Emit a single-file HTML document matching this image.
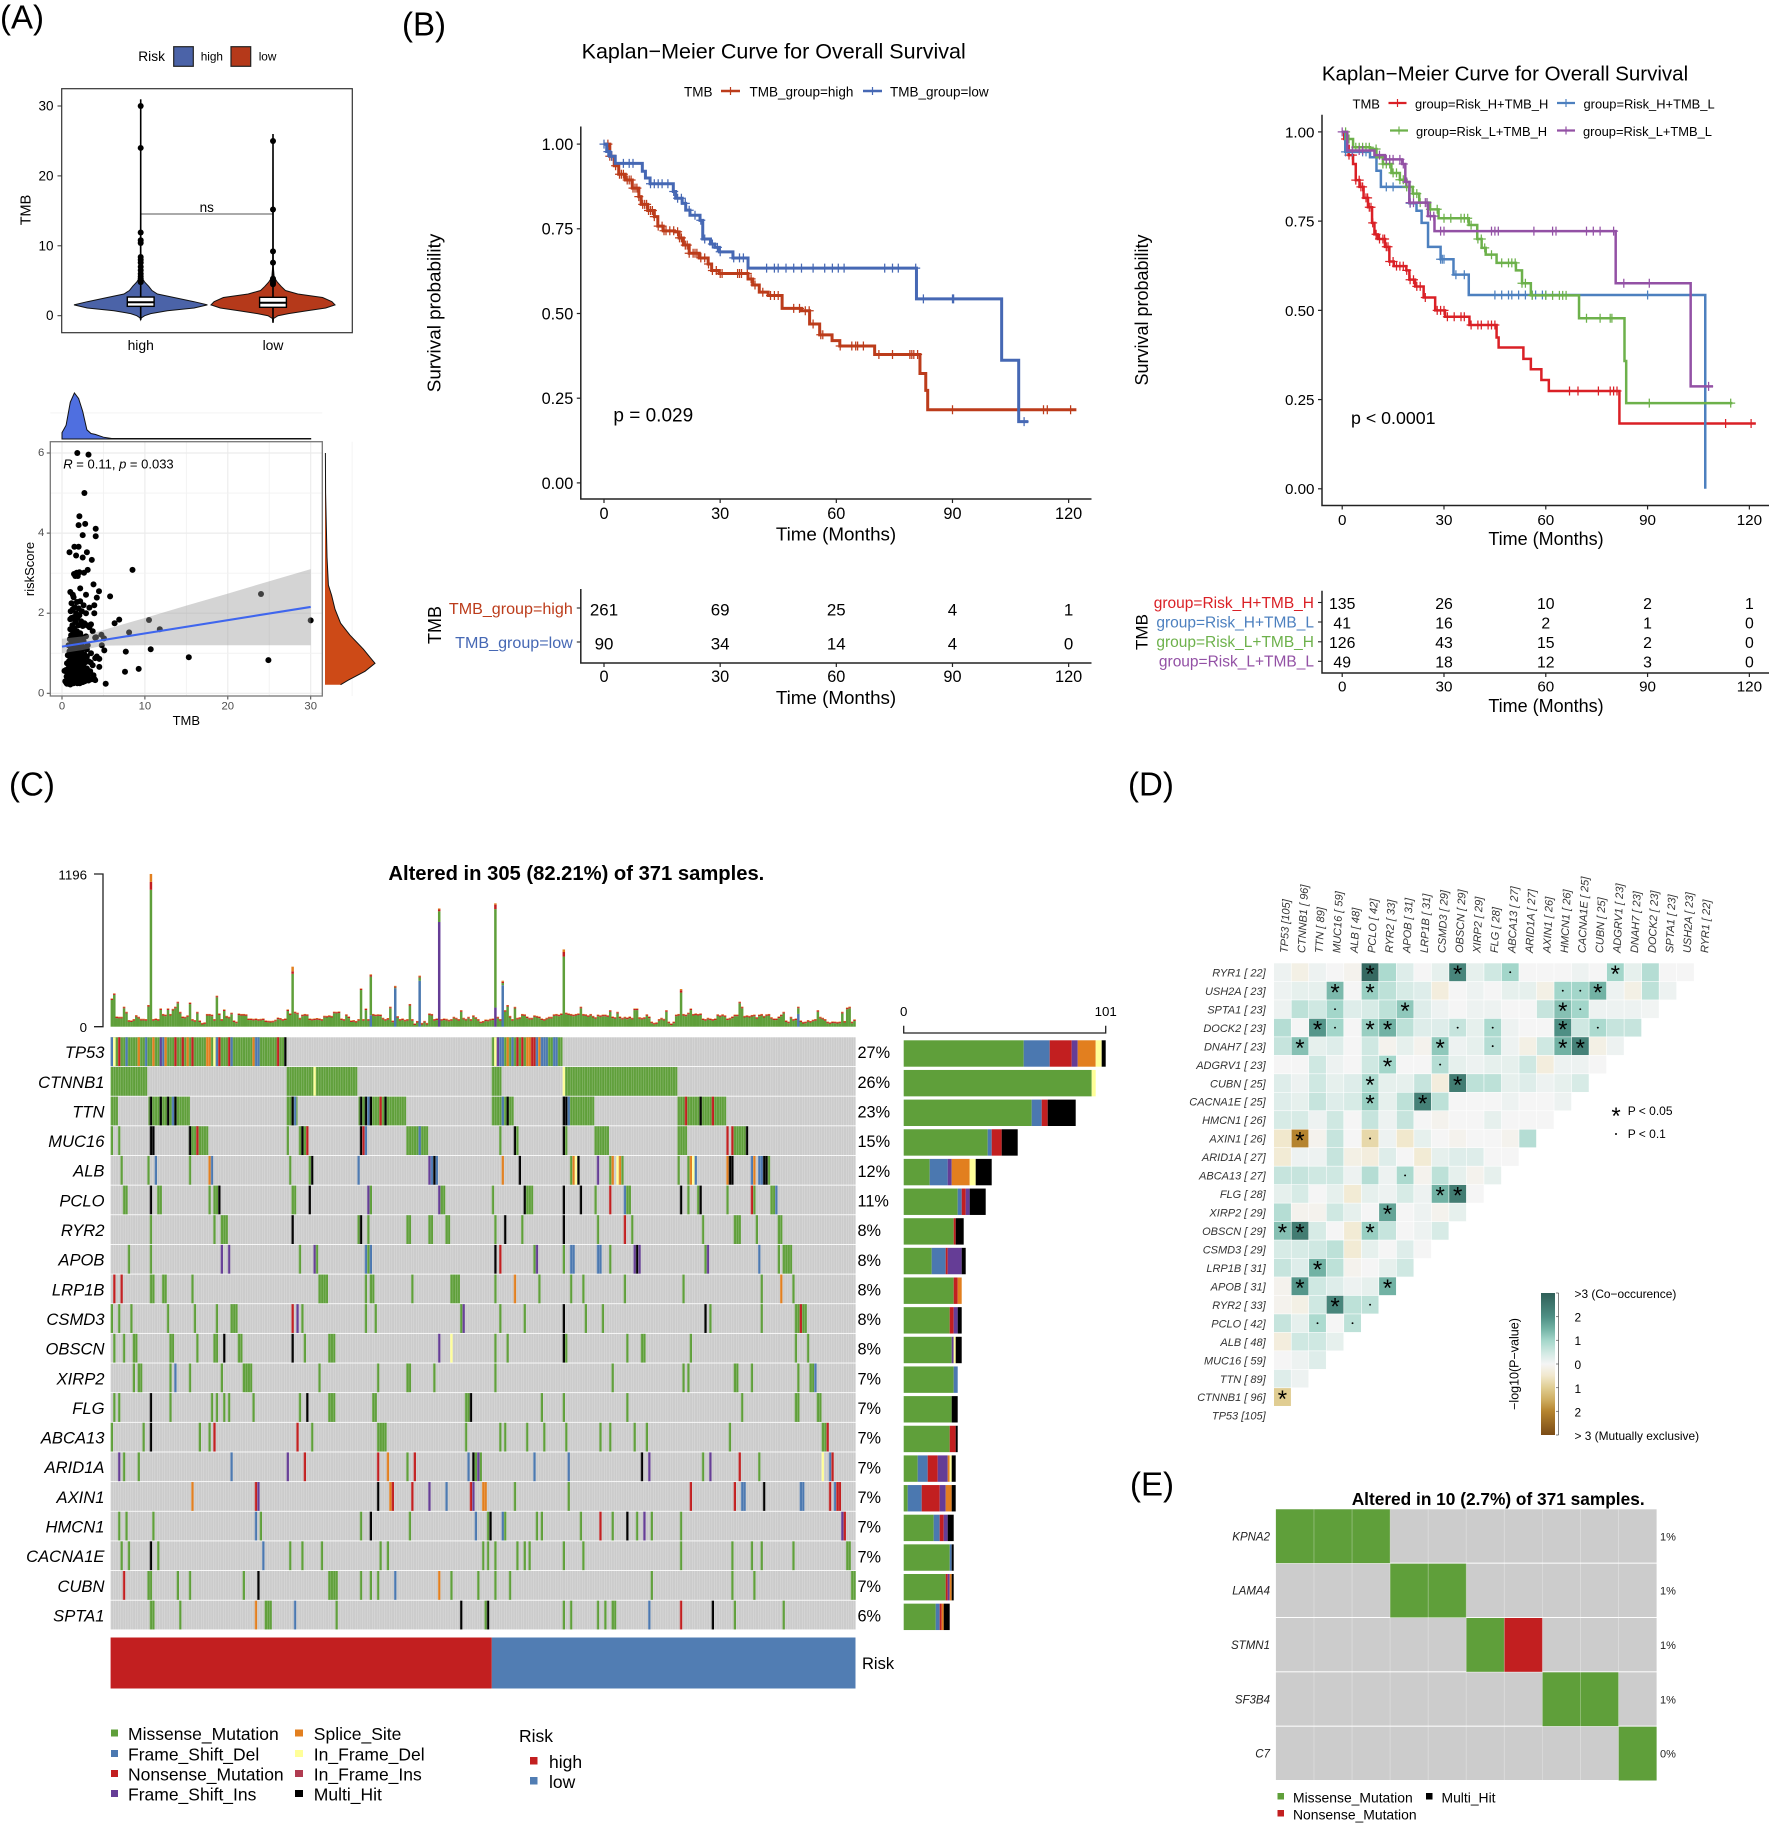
<!DOCTYPE html>
<html lang="en">
<head>
<meta charset="utf-8">
<title>Tumor mutation burden multi-panel figure</title>
<style>
html,body{margin:0;padding:0;background:#fff;}
svg{display:block;font-family:"Liberation Sans",sans-serif;}
text{dominant-baseline:central;fill:#000;}
.it{font-style:italic;}
</style>
</head>
<body>
<svg id="fig" xmlns="http://www.w3.org/2000/svg" width="1772" height="1823" viewBox="0 0 1772 1823">
<defs>
<pattern id="colLines" x="110.6" y="0" width="2.443" height="10" patternUnits="userSpaceOnUse">
<rect x="0" y="0" width="0.55" height="10" fill="#ffffff" opacity="0.32"/>
</pattern>
<linearGradient id="heatGradient" x1="0" y1="0" x2="0" y2="1"></linearGradient>
</defs>
<rect x="0" y="0" width="1772" height="1823" fill="#ffffff"/>

<text x="0" y="17" font-size="33">(A)</text>
<text x="402" y="24" font-size="33">(B)</text>
<text x="9" y="784" font-size="33">(C)</text>
<text x="1128" y="784" font-size="33">(D)</text>
<text x="1130" y="1484" font-size="33">(E)</text>

<!-- Panel A violin -->
<g id="violinPanel">
<text x="138.3" y="56.7" font-size="13.7">Risk</text>
<rect x="173.7" y="46.7" width="19.6" height="19.6" fill="#4b63a8" stroke="#222" stroke-width="1.2"/>
<text x="200.7" y="56.7" font-size="11.8">high</text>
<rect x="231" y="46.7" width="19.7" height="19.6" fill="#b5391a" stroke="#222" stroke-width="1.2"/>
<text x="258.7" y="56.7" font-size="11.8">low</text>
<rect x="61.7" y="88.7" width="290.6" height="244" fill="none" stroke="#333" stroke-width="1.2"/>
<text x="26.7" y="210" font-size="14.5" text-anchor="middle" transform="rotate(-90 26.7 210)">TMB</text>
<line x1="140.7" y1="214" x2="273" y2="214" stroke="#555" stroke-width="1.1"/>
<text x="206.7" y="207.7" font-size="13.5" text-anchor="middle">ns</text>
</g>

<!-- Panel A scatter -->
<g id="scatterPanel">
<text x="186.3" y="720.7" font-size="13" text-anchor="middle">TMB</text>
<text x="29.3" y="569" font-size="13" text-anchor="middle" transform="rotate(-90 29.3 569)">riskScore</text>
</g>

<!-- Panel B left -->
<g id="km1Panel">
<text x="773.7" y="50.5" font-size="21.5" text-anchor="middle">Kaplan−Meier Curve for Overall Survival</text>
<text x="684" y="91" font-size="13.5">TMB</text>
<line x1="721" y1="91" x2="740" y2="91" stroke="#bc3c1b" stroke-width="2.4"/>
<line x1="730.5" y1="87" x2="730.5" y2="95" stroke="#bc3c1b" stroke-width="1.2"/>
<text x="749.5" y="91" font-size="13.5">TMB_group=high</text>
<line x1="863" y1="91" x2="882" y2="91" stroke="#4668b4" stroke-width="2.4"/>
<line x1="872.5" y1="87" x2="872.5" y2="95" stroke="#4668b4" stroke-width="1.2"/>
<text x="890" y="91" font-size="13.5">TMB_group=low</text>
<text x="434" y="313" font-size="18.9" text-anchor="middle" transform="rotate(-90 434 313)">Survival probability</text>
<text x="836" y="533" font-size="18.8" text-anchor="middle">Time (Months)</text>
<text x="613.4" y="415" font-size="19">p = 0.029</text>
<text x="434" y="625" font-size="18" text-anchor="middle" transform="rotate(-90 434 625)">TMB</text>
<text x="836" y="696.5" font-size="18.8" text-anchor="middle">Time (Months)</text>
</g>

<!-- Panel B right -->
<g id="km2Panel">
<text x="1505" y="73" font-size="20.5" text-anchor="middle">Kaplan−Meier Curve for Overall Survival</text>
<text x="1352.5" y="103" font-size="13">TMB</text>
<line x1="1388.5" y1="103" x2="1406.5" y2="103" stroke="#da2026" stroke-width="2.2"/>
<line x1="1397.5" y1="99" x2="1397.5" y2="107" stroke="#da2026" stroke-width="1.2"/>
<text x="1415" y="103" font-size="12.9">group=Risk_H+TMB_H</text>
<line x1="1557" y1="103" x2="1575" y2="103" stroke="#4d80bf" stroke-width="2.2"/>
<line x1="1566" y1="99" x2="1566" y2="107" stroke="#4d80bf" stroke-width="1.2"/>
<text x="1583.5" y="103" font-size="12.9">group=Risk_H+TMB_L</text>
<line x1="1390" y1="130.5" x2="1408" y2="130.5" stroke="#6db14b" stroke-width="2.2"/>
<line x1="1399" y1="126.5" x2="1399" y2="134.5" stroke="#6db14b" stroke-width="1.2"/>
<text x="1416" y="130.5" font-size="12.9">group=Risk_L+TMB_H</text>
<line x1="1557" y1="130.5" x2="1575" y2="130.5" stroke="#9351a5" stroke-width="2.2"/>
<line x1="1566" y1="126.5" x2="1566" y2="134.5" stroke="#9351a5" stroke-width="1.2"/>
<text x="1583" y="130.5" font-size="12.9">group=Risk_L+TMB_L</text>
<text x="1141" y="310" font-size="18" text-anchor="middle" transform="rotate(-90 1141 310)">Survival probability</text>
<text x="1546" y="538" font-size="18" text-anchor="middle">Time (Months)</text>
<text x="1351" y="417" font-size="17.8">p &lt; 0.0001</text>
<text x="1141" y="632" font-size="17" text-anchor="middle" transform="rotate(-90 1141 632)">TMB</text>
<text x="1546" y="705" font-size="18" text-anchor="middle">Time (Months)</text>
</g>

<!-- Panel C -->
<g id="oncoPanel">
<text x="388.4" y="873" font-size="20.2" font-weight="bold">Altered in 305 (82.21%) of 371 samples.</text>
<text x="862" y="1663" font-size="16.5">Risk</text>
<rect x="110.6" y="1637.5" width="381.2" height="51" fill="#c21f20"/>
<rect x="491.8" y="1637.5" width="363.7" height="51" fill="#517db3"/>
<rect x="111" y="1729.5" width="7" height="7" fill="#5f9f3a"/>
<text x="128" y="1733" font-size="17.5">Missense_Mutation</text>
<rect x="111" y="1750" width="7" height="7" fill="#4b78b0"/>
<text x="128" y="1753.5" font-size="17.5">Frame_Shift_Del</text>
<rect x="111" y="1770" width="7" height="7" fill="#c21f20"/>
<text x="128" y="1773.5" font-size="17.5">Nonsense_Mutation</text>
<rect x="111" y="1790" width="7" height="7" fill="#653d96"/>
<text x="128" y="1793.5" font-size="17.5">Frame_Shift_Ins</text>
<rect x="295" y="1729.5" width="8" height="7" fill="#e27f1f"/>
<text x="313.8" y="1733" font-size="17.5">Splice_Site</text>
<rect x="295" y="1750" width="8" height="7" fill="#ffff99"/>
<text x="313.8" y="1753.5" font-size="17.5">In_Frame_Del</text>
<rect x="295" y="1770" width="8" height="7" fill="#b03b50"/>
<text x="313.8" y="1773.5" font-size="17.5">In_Frame_Ins</text>
<rect x="295" y="1790" width="8" height="7" fill="#000"/>
<text x="313.8" y="1793.5" font-size="17.5">Multi_Hit</text>
<text x="519" y="1735" font-size="17.5">Risk</text>
<rect x="530" y="1757" width="7.5" height="7.5" fill="#c21f20"/>
<text x="549" y="1761" font-size="17.5">high</text>
<rect x="530" y="1777" width="7.5" height="7.5" fill="#517db3"/>
<text x="549" y="1781" font-size="17.5">low</text>
</g>

<!-- Panel D -->
<g id="heatPanel">
<text x="1616" y="1116" font-size="24" text-anchor="middle" style="dominant-baseline:auto" dy="8">*</text>
<text x="1627.7" y="1110" font-size="12" fill="#333">P &lt; 0.05</text>
<circle cx="1616" cy="1134" r="1" fill="#000"/>
<text x="1627.7" y="1133" font-size="12">P &lt; 0.1</text>
<rect x="1541" y="1293" width="14" height="142" fill="url(#heatGradient)"/>
<line x1="1558.6" y1="1293" x2="1558.6" y2="1435" stroke="#666" stroke-width="0.8"/>
<text x="1513.7" y="1364" font-size="12.5" text-anchor="middle" transform="rotate(-90 1513.7 1364)">−log10(P−value)</text>
<text x="1574.5" y="1293" font-size="11.9">&gt;3 (Co−occurence)</text>
<text x="1574.5" y="1316.6" font-size="11.9">2</text>
<text x="1574.5" y="1340" font-size="11.9">1</text>
<text x="1574.5" y="1364" font-size="11.9">0</text>
<text x="1574.5" y="1388" font-size="11.9">1</text>
<text x="1574.5" y="1411.5" font-size="11.9">2</text>
<text x="1574.5" y="1435" font-size="11.9">&gt; 3 (Mutually exclusive)</text>
</g>

<!-- Panel E -->
<g id="ePanel">
<text x="1351.7" y="1498" font-size="17.3" font-weight="bold">Altered in 10 (2.7%) of 371 samples.</text>
<rect x="1277.5" y="1793" width="6.5" height="6.5" fill="#5f9f3a"/>
<text x="1293" y="1796.5" font-size="13.9">Missense_Mutation</text>
<rect x="1277.5" y="1810" width="6.5" height="6.5" fill="#c21f20"/>
<text x="1293" y="1813.5" font-size="13.9">Nonsense_Mutation</text>
<rect x="1426" y="1793" width="6.5" height="6.5" fill="#000"/>
<text x="1441.5" y="1796.5" font-size="13.9">Multi_Hit</text>
</g>
</svg>

<script>
/* ---------- Panel A violin data ---------- */
const violinGroups = ['high', 'low'];
const violinHighTmb = [-0.6,-0.3,0,0.3,0.7,1.1,1.55,2,2.6,3.1,3.6,4.2,4.8,5.5,7,10,15,25,30.95];
const violinHighDensity = [0,0.01,0.06,0.15,0.4,0.8,1,0.8,0.5,0.25,0.17,0.12,0.06,0.015,0.005,0.004,0.003,0.003,0];
const violinLowTmb = [-1,-0.4,0,0.3,0.7,1.1,1.55,2,2.6,3.1,3.6,4.2,4.8,5.5,7,10,15,26];
const violinLowDensity = [0,0.01,0.08,0.25,0.55,0.85,1,0.95,0.8,0.4,0.2,0.13,0.07,0.02,0.005,0.004,0.003,0];
const violinHighOutliers = [30,24,11.9,10.8,10.4,8.4,8,7.6,7,6.5,6,5.6,5.3,5,4.8];
const violinLowOutliers = [25,15.2,9.2,7.6,5.3,5,4.7,4.5];
const violinHighBox = [1.34,1.92,2.67];
const violinLowBox = [1.2,1.86,2.63];
const violinTicks = [0,10,20,30];

/* ---------- Panel A scatter data ---------- */
const scatterPoints = [[1.85,6],[3.2,5.96],[2.7,5],[2.1,4.42],[2,4.2],[2.8,4.23],[4.06,4.11],[4.06,3.92],[2.5,3.95],[0.9,3.52],[1.5,3.66],[2,3.66],[1.7,3.44],[2.5,3.39],[3,3.52],[3.6,3.33],[8.5,3.08],[3.1,3.08],[2.65,3.01],[1.45,2.98],[1.77,3.01],[2.1,3.02],[1.6,2.93],[1.9,2.93],[3.8,2.72],[2.2,2.62],[4.46,2.55],[1,2.53],[2.9,2.46],[4.2,2.39],[5.8,2.42],[24,2.48],[1.3,2.46],[6.9,1.84],[6.35,1.75],[10.5,1.83],[30,1.82],[8.1,1.52],[11.8,1.6],[5.1,1.07],[7.7,1.04],[10.7,1.1],[15.3,0.9],[24.9,0.83],[7.6,0.54],[9.25,0.61],[5.27,0.24],[4.75,1.46],[5.07,1.37],[4.8,1.2],[4,1.39],[4.5,0.86],[4.2,0.92],[4.5,0.66],[3.9,2.2],[3.9,2],[3.3,2.14],[4,0.33],[3.8,0.45],[3.46,0.77],
[0.3,0.56],[0.4,0.3],[0.45,0.58],[0.5,0.27],[0.55,0.42],[0.6,0.24],[0.6,0.75],[0.65,0.5],[0.7,0.33],[0.7,0.95],[0.75,0.62],[0.8,0.26],[0.8,1.2],[0.85,0.44],[0.85,0.8],[0.9,0.55],[0.9,1.05],[0.95,0.3],[0.95,0.7],[0.95,1.35],[1,0.22],[1,0.48],[1,0.9],[1,1.6],[1,1.85],[1.05,0.62],[1.05,1.15],[1.05,2.05],[1.1,0.36],[1.1,0.78],[1.1,1.45],[1.15,0.55],[1.15,1],[1.15,1.88],[1.15,2.25],[1.2,0.27],[1.2,0.68],[1.2,1.28],[1.25,0.45],[1.25,0.88],[1.25,1.7],[1.3,0.33],[1.3,0.58],[1.3,1.1],[1.3,2.1],[1.35,0.75],[1.35,1.5],[1.4,0.25],[1.4,0.5],[1.4,0.95],[1.4,1.9],[1.4,2.4],[1.45,0.65],[1.45,1.25],[1.5,0.38],[1.5,0.82],[1.5,1.38],[1.5,1.62],[1.55,0.56],[1.55,1.05],[1.55,2.15],[1.6,0.28],[1.6,0.72],[1.6,1.18],[1.6,1.78],[1.65,0.46],[1.65,0.92],[1.65,1.48],[1.7,0.62],[1.7,1.3],[1.7,2],[1.75,0.35],[1.75,0.8],[1.75,1.1],[1.8,0.52],[1.8,1.55],[1.8,2.28],[1.85,0.25],[1.85,0.7],[1.85,0.98],[1.85,1.88],[1.9,0.42],[1.9,1.22],[1.95,0.6],[1.95,0.88],[1.95,1.42],[2,0.3],[2,0.76],[2,1.08],[2,1.7],[2,2.12],[2.05,0.5],[2.05,1.3],[2.1,0.66],[2.1,0.95],[2.1,1.95],[2.15,0.25],[2.15,0.4],[2.15,1.15],[2.2,0.58],[2.2,1.5],[2.2,2.3],[2.25,0.82],[2.3,0.34],[2.3,1.02],[2.3,1.8],[2.35,0.62],[2.35,1.25],[2.4,0.46],[2.4,0.9],[2.4,2.05],[2.45,0.72],[2.45,1.4],[2.5,0.28],[2.5,0.56],[2.5,1.12],[2.5,1.68],[2.55,0.84],[2.6,0.4],[2.6,1.3],[2.6,2.2],[2.65,0.65],[2.7,0.98],[2.7,1.75],[2.75,0.3],[2.8,0.52],[2.8,1.15],[2.85,0.78],[2.9,1.42],[2.9,2],[3,0.34],[3,0.62],[3,0.92],[3,1.7],[3.1,1.2],[3.15,0.45],[3.2,0.8],[3.3,1.65],[3.4,0.55],[3.5,1],[3.5,1.72],[3.6,0.35],[3.7,1.55],[3.7,0.7],[3.9,0.36],[4,0.88],[4.1,1.4],
[1.2,0.85],[1.3,0.95],[1.4,0.72],[1.5,1.2],[1.6,0.95],[1.7,0.82],[1.8,1.05],[1.9,0.72],[2,0.92],[2.1,1.2],[2.2,0.72],[2.3,0.9],[2.4,1.1],[2.5,0.98],[2.6,0.8],[2.7,0.6],[1.3,1.28],[1.6,1.4],[1.9,1.35],[2.2,1.28],[2.5,1.3],[1.1,1.0],[1.4,1.12],[1.7,1.02],[2,1.22],[2.3,1.15],[1.2,0.55],[1.5,0.6],[1.8,0.65],[2.1,0.5],[2.4,0.6],[2.7,0.45],[1.3,0.42],[1.6,0.4],[1.9,0.28],[2.2,0.35],[2.5,0.42],[2.9,0.42],[3.2,0.32],[3,1.1]];
const scatterXTicks = [0,10,20,30];
const scatterYTicks = [0,2,4,6];
const trendX = [0,30];
const trendY = [1.165,2.157];
const bandX = [0,2.5,5,10,15,20,25,30];
const bandHigh = [1.36,1.42,1.58,1.88,2.19,2.49,2.8,3.1];
const bandLow = [1,1.08,1.19,1.2,1.2,1.2,1.2,1.2];
const topDensityX = [0,0.25,0.5,1,1.5,2,2.5,3,3.5,4,5,6,10,30];
const topDensityY = [0.14,0.22,0.3,0.8,1,0.88,0.6,0.2,0.12,0.1,0.04,0.01,0.01,0.01];
const rightDensityY = [6,5,3.4,2.7,2.45,2.1,1.75,1.45,1.1,0.9,0.75,0.55,0.33,0.215];
const rightDensityX = [0.007,0.013,0.04,0.067,0.133,0.2,0.313,0.5,0.767,0.9,1,0.8,0.467,0.313];

/* ---------- Panel B survival data ---------- */
const kmTimeTicks = [0,30,60,90,120];
const kmSurvTicks = [0,0.25,0.5,0.75,1];
const km1HighTime = [0,1.5,2.65,3.8,5.5,7.3,9,9.6,11.3,13,13.9,15.3,18.2,19.4,20.5,22,24.6,26.9,27.8,29.7,37.2,38.4,40.1,42.4,46,51,53.1,55.7,58.9,60.9,69.9,81.6,83.1,83.6];
const km1HighSurv = [1,0.964,0.936,0.911,0.894,0.87,0.845,0.822,0.804,0.786,0.758,0.744,0.741,0.723,0.702,0.678,0.664,0.646,0.627,0.618,0.602,0.584,0.563,0.553,0.515,0.508,0.469,0.437,0.42,0.404,0.379,0.323,0.273,0.216];
const km1HighEnd = 122;
const km1HighCensor = [1,1.5,2,3,4,4.5,5,6,6.5,7,7.5,8,8.5,9,10,10.5,11,11.5,12,12.5,13,14,15,15.5,16,17,18,19,19.5,20,21,21.5,22,23,23.5,24,25,26,27,28,29,30,30.5,34.5,35,35.5,37,38,39,41,43,44,45,49,50.5,52,53,54,56,56.5,61,64,65,65.5,67,71,74.5,79,79.5,80,81,90,113.5,114.5,120.5];
const km1LowTime = [0,0.7,1.5,2.9,9.9,10.7,11.9,17.9,18.5,20.2,21.1,22.2,24.8,25.5,27.5,28.6,29.8,33.3,37.2,80.7,102.7,107.1];
const km1LowSurv = [1,0.978,0.964,0.943,0.92,0.9,0.883,0.86,0.84,0.825,0.805,0.79,0.775,0.72,0.705,0.695,0.682,0.664,0.634,0.543,0.362,0.181];
const km1LowEnd = 109.6;
const km1LowCensor = [0,1,2,5,6.5,7.5,12,13,14,15,16.5,18,19,20,21,22,23.5,25,26,28,29.3,30,33.5,35,36,42,44,45,47,49,51,54,57,59,60.5,62,72.5,74.5,76,80.5,82.5,90,90.3,108.5];
const km1RiskGroups = ['TMB_group=high','TMB_group=low'];
const km1RiskHigh = [261,69,25,4,1];
const km1RiskLow = [90,34,14,4,0];

const km2HHTime = [0,0.6,1.3,1.9,3.2,4,5.1,6.3,7.6,8.8,9.5,10.5,12.6,13.9,15.2,18.9,19.8,21.5,24,27.4,30.3,37.5,45.5,46.1,53.4,55.6,58.7,60.9,81.7];
const km2HHSurv = [1,0.98,0.961,0.935,0.91,0.865,0.846,0.815,0.789,0.745,0.713,0.7,0.678,0.637,0.624,0.612,0.586,0.567,0.536,0.5,0.482,0.459,0.424,0.396,0.364,0.335,0.305,0.274,0.183];
const km2HHEnd = 121.9;
const km2HHCensor = [1,2,3,4,5,5.5,6,7,7.5,8,8.5,9,10,11,12,12.5,13,13.5,14,15,16,17,18,19,20,21,22,23,24.5,28,29,30,31,33,35,36,38,40,41,43,44,45,67,69.5,75.5,79,80,81,113,120.5];
const km2HLTime = [0,0.9,8.2,10.1,11.4,19.8,21.9,23.4,25.3,29,32.8,37.3,107];
const km2HLSurv = [1,0.944,0.929,0.891,0.846,0.8,0.779,0.745,0.678,0.643,0.6,0.543,0];
const km2HLEnd = 107;
const km2HLCensor = [1,3,6,7,13,15,20,29,29.5,30,33.5,36,45,47,49,50,52,54,56,57,59,60,90];
const km2LHTime = [0,1.3,3.2,8.2,10.1,12,14.5,17,18.9,20.8,22.7,25.9,28.4,37.3,39.8,41.1,42.3,45.5,51.2,53,55.6,69.8,83.2,83.7];
const km2LHSurv = [1,0.98,0.957,0.952,0.929,0.91,0.885,0.866,0.846,0.827,0.802,0.783,0.758,0.739,0.7,0.675,0.656,0.633,0.612,0.576,0.542,0.478,0.358,0.24];
const km2LHEnd = 115;
const km2LHCensor = [1,2,4,5,6,7,8,10,12,13,14,15,16,17,18,19,20,21,22,23,25,26,28,30,32,35,36,37,38,40,41,42,44,47,49,50,51,53,54,56,60,62,64,65,66,72,76,79,79.5,90.5,114.5];
const km2LLTime = [0,1.5,9.5,12.6,17.7,18.6,19.8,25.3,27.2,80.6,102.7];
const km2LLSurv = [1,0.948,0.935,0.923,0.91,0.86,0.802,0.764,0.722,0.576,0.287];
const km2LLEnd = 109.3;
const km2LLCensor = [0,3,5,6,11,13,14,15,17,18,19,20,21,24.5,25,26,27,29,30,44,45,46,56.5,62,63,72,74,76,80,83,90.5,108];
const km2RiskGroups = ['group=Risk_H+TMB_H','group=Risk_H+TMB_L','group=Risk_L+TMB_H','group=Risk_L+TMB_L'];
const km2RiskHH = [135,26,10,2,1];
const km2RiskHL = [41,16,2,1,0];
const km2RiskLH = [126,43,15,2,0];
const km2RiskLL = [49,18,12,3,0];

/* ---------- Panel C oncoplot data ---------- */
const mutationColor = {M:'#5f9f3a',D:'#4b78b0',N:'#c21f20',I:'#653d96',S:'#e27f1f',Y:'#ffff99',F:'#b03b50',H:'#000000'};
const geneNames = ['TP53','CTNNB1','TTN','MUC16','ALB','PCLO','RYR2','APOB','LRP1B','CSMD3','OBSCN','XIRP2','FLG','ABCA13','ARID1A','AXIN1','HMCN1','CACNA1E','CUBN','SPTA1'];
const genePercents = [27,26,23,15,12,11,8,8,8,8,8,7,7,7,7,7,7,7,7,6];
const mutTP53 = [[0,72,'M'],[0,1,'D'],[1,1,'Y'],[3,1,'N'],[6,1,'D'],[11,1,'S'],[14,1,'D'],[17,1,'S'],[20,1,'I'],[21,1,'D'],[22,1,'S'],[26,1,'N'],[29,1,'N'],[31,1,'S'],[33,1,'N'],[39,2,'S'],[42,1,'Y'],[43,1,'D'],[44,1,'N'],[48,1,'N'],[49,1,'D'],[58,1,'S'],[59,2,'D'],[68,1,'N'],[71,1,'H'],[156,29,'M'],[157,1,'Y'],[158,1,'I'],[159,2,'D'],[162,1,'S'],[164,1,'D'],[166,1,'N'],[168,1,'N'],[170,2,'S'],[172,2,'N'],[174,1,'D'],[175,1,'S'],[176,2,'D'],[178,1,'D'],[181,2,'D']];
const mutCTNNB1 = [[0,15,'M'],[72,29,'M'],[83,1,'Y'],[156,4,'M'],[185,1,'Y'],[186,46,'M']];
const mutTTN = [[0,3,'M'],[15.5,17,'M'],[16,1,'H'],[20,1,'H'],[23,1,'H'],[25,1,'D'],[26,1,'H'],[72,4.5,'M'],[74,1,'H'],[75,1,'D'],[101.5,19.5,'M'],[102,1,'H'],[104,1,'H'],[105,1,'D'],[106,1,'H'],[110,1,'N'],[112,1,'H'],[156,9,'M'],[160,1,'D'],[162,1,'H'],[185,13,'M'],[185,2,'H'],[187,1,'D'],[232,20,'M'],[235,1,'N'],[241,1,'H'],[246,1,'N']];
const mutMUC16 = [[0,1,'M'],[3,1,'M'],[16,2,'H'],[32,8,'M'],[32,1,'H'],[35,1,'N'],[72,1,'M'],[77,4,'M'],[78,1,'H'],[80,1,'N'],[102,1,'H'],[103,1,'N'],[104,1,'D'],[121,9,'M'],[126,1,'D'],[159,1,'M'],[165,1,'H'],[166,1,'M'],[185,1,'H'],[186,1,'M'],[198,6,'M'],[232,4,'M'],[252,1,'N'],[254,1,'N'],[255,5,'M'],[260,1,'H']];
const mutALB = [[4,1,'M'],[15,1,'M'],[18,1,'D'],[32,1,'M'],[40,1,'S'],[41,1,'D'],[73,1,'M'],[81,1,'M'],[82,1,'H'],[101,1,'D'],[130,1,'I'],[131,1,'D'],[132,1,'H'],[133,1,'D'],[160,1,'S'],[167,1,'H'],[188,1,'M'],[189,1,'S'],[190,1,'Y'],[191,1,'H'],[199,1,'I'],[204,1,'M'],[205,1,'S'],[207,1,'Y'],[208,1,'S'],[209,1,'M'],[232,1,'M'],[236,1,'M'],[237,1,'S'],[238,1,'Y'],[239,1,'D'],[252,1,'S'],[253,2,'H'],[262,1,'D'],[263,1,'S'],[265,1,'D'],[266,1,'D'],[267,2,'H'],[269,1,'M']];
const mutPCLO = [[5,2,'M'],[16,1,'H'],[19,2,'M'],[40,1,'M'],[42,2,'M'],[44,1,'H'],[74,2,'M'],[81,1,'H'],[105,1,'I'],[106,1,'M'],[134,1,'I'],[135,2,'M'],[156,1,'M'],[169,1,'H'],[170,3,'M'],[185,1,'H'],[192,1,'H'],[198,1,'M'],[204,1,'N'],[210,1,'D'],[211,2,'M'],[233,1,'H'],[236,1,'M'],[240,1,'M'],[241,1,'H'],[252,1,'M'],[262,1,'N'],[263,1,'M'],[270,2,'M'],[272,1,'D']];
const mutRYR2 = [[16,1,'M'],[42,1,'M'],[45,3,'M'],[74,1,'H'],[101,1,'M'],[102,1,'H'],[105,1,'M'],[121,2,'M'],[130,2,'M'],[137,2,'M'],[157,1,'M'],[161,1,'H'],[168,1,'M'],[185,1,'H'],[199,1,'M'],[210,1,'N'],[213,1,'M'],[242,1,'M'],[255,3,'M'],[264,1,'M'],[273,2,'M']];
const mutAPOB = [[7,1,'M'],[16,1,'M'],[45,1,'I'],[48,1,'I'],[77,1,'M'],[83,1,'I'],[84,1,'M'],[104,1,'D'],[105,1,'M'],[106,1,'D'],[157,1,'H'],[159,1,'N'],[173,1,'M'],[174,1,'I'],[185,1,'M'],[188,2,'D'],[199,2,'D'],[204,1,'M'],[214,1,'I'],[215,1,'H'],[216,1,'I'],[243,1,'M'],[244,1,'I'],[265,1,'D'],[273,1,'M'],[275,4,'M']];
const mutLRP1B = [[1,1,'N'],[4,1,'N'],[16,2,'M'],[21,2,'M'],[33,1,'M'],[85,4,'M'],[104,1,'M'],[106,2,'M'],[123,1,'M'],[139,4,'M'],[157,1,'M'],[165,1,'S'],[175,1,'M'],[188,1,'M'],[193,1,'M'],[210,1,'M'],[234,1,'M'],[266,1,'M'],[274,1,'S'],[279,1,'M']];
const mutCSMD3 = [[0,1,'M'],[3,1,'M'],[8,1,'M'],[23,1,'M'],[34,1,'M'],[43,1,'M'],[49,3,'M'],[74,1,'N'],[76,1,'I'],[78,1,'M'],[104,1,'M'],[108,1,'M'],[143,1,'M'],[144,1,'I'],[159,1,'M'],[169,1,'M'],[185,1,'H'],[194,1,'M'],[201,1,'M'],[243,1,'H'],[245,1,'M'],[266,1,'M'],[280,2,'M'],[282,1,'N'],[283,2,'M']];
const mutOBSCN = [[1,1,'M'],[5,1,'M'],[9,2,'M'],[24,2,'M'],[35,1,'M'],[42,2,'M'],[46,1,'H'],[52,2,'M'],[74,1,'H'],[79,1,'M'],[89,3,'M'],[134,1,'I'],[139,1,'Y'],[157,1,'M'],[162,1,'M'],[185,1,'H'],[186,1,'M'],[211,1,'M'],[217,2,'M'],[237,1,'M'],[280,1,'M'],[285,1,'M']];
const mutXIRP2 = [[9,1,'M'],[11,2,'M'],[24,1,'M'],[26,1,'D'],[32,1,'M'],[45,1,'M'],[54,4,'M'],[85,1,'M'],[109,1,'M'],[121,2,'M'],[132,1,'M'],[157,1,'M'],[205,1,'M'],[234,1,'M'],[236,1,'M'],[255,2,'M'],[262,1,'M'],[281,1,'M'],[286,2,'M'],[288,1,'D']];
const mutFLG = [[1,1,'M'],[3,1,'M'],[16,1,'H'],[24,1,'M'],[41,1,'M'],[43,1,'M'],[46,1,'M'],[48,1,'M'],[58,1,'M'],[77,1,'M'],[80,1,'H'],[89,3,'M'],[107,2,'M'],[145,2,'M'],[147,1,'H'],[176,1,'M'],[185,1,'M'],[211,1,'M'],[258,1,'M'],[280,2,'M'],[289,2,'M']];
const mutABCA13 = [[0,1,'M'],[13,1,'M'],[16,1,'H'],[36,1,'M'],[40,1,'M'],[42,1,'N'],[76,1,'N'],[82,1,'M'],[109,4,'M'],[145,1,'M'],[159,1,'M'],[161,1,'M'],[170,1,'M'],[177,1,'M'],[186,1,'M'],[200,1,'M'],[204,1,'M'],[214,1,'M'],[219,1,'M'],[253,1,'M'],[291,2,'M'],[293,1,'N']];
const mutARID1A = [[3,1,'I'],[5,1,'M'],[11,1,'M'],[49,1,'D'],[72,1,'I'],[79,1,'N'],[109,1,'N'],[113,1,'S'],[121,1,'M'],[124,1,'N'],[146,1,'D'],[148,1,'H'],[149,1,'M'],[150,1,'I'],[151,1,'M'],[173,1,'D'],[187,1,'D'],[217,1,'H'],[220,1,'I'],[242,1,'M'],[245,1,'I'],[257,1,'N'],[265,1,'M'],[291,1,'Y'],[294,1,'D'],[295,1,'N']];
const mutAXIN1 = [[33,1,'S'],[59,1,'N'],[60,1,'I'],[109,1,'H'],[114,1,'S'],[115,1,'N'],[123,1,'N'],[130,1,'I'],[137,1,'D'],[147,1,'N'],[148,1,'I'],[152,2,'S'],[165,1,'M'],[187,1,'M'],[237,1,'N'],[255,1,'N'],[258,2,'D'],[267,1,'H'],[282,2,'D'],[294,1,'N'],[296,1,'D'],[297,2,'N']];
const mutHMCN1 = [[3,1,'M'],[6,1,'M'],[17,1,'M'],[59,1,'D'],[61,1,'M'],[102,1,'M'],[106,1,'H'],[122,1,'M'],[149,1,'D'],[154,1,'M'],[155,1,'H'],[160,1,'D'],[161,1,'M'],[174,1,'M'],[176,1,'M'],[192,1,'M'],[200,1,'N'],[205,1,'M'],[211,1,'H'],[215,1,'M'],[218,1,'I'],[221,1,'M'],[233,1,'M'],[299,1,'I'],[300,1,'N']];
const mutCACNA1E = [[4,1,'M'],[7,1,'M'],[16,1,'H'],[19,1,'M'],[62,1,'D'],[73,1,'M'],[78,1,'M'],[86,1,'M'],[110,1,'M'],[113,1,'M'],[152,1,'M'],[154,1,'M'],[157,1,'M'],[166,1,'M'],[169,1,'M'],[171,1,'M'],[185,1,'M'],[193,1,'M'],[233,1,'M'],[254,1,'M'],[262,1,'M'],[266,1,'M'],[279,1,'M'],[301,2,'M']];
const mutCUBN = [[5,1,'N'],[15,2,'M'],[27,1,'M'],[32,1,'M'],[54,1,'M'],[60,1,'H'],[89,4,'M'],[102,1,'M'],[106,1,'M'],[109,1,'M'],[116,1,'D'],[134,1,'S'],[139,1,'M'],[150,1,'M'],[157,1,'M'],[163,1,'M'],[221,1,'M'],[254,1,'M'],[263,1,'M'],[303,2,'M']];
const mutSPTA1 = [[16,2,'M'],[28,1,'M'],[59,1,'S'],[63,3,'M'],[75,1,'D'],[92,1,'M'],[143,1,'H'],[153,1,'M'],[154,1,'H'],[185,1,'M'],[188,1,'M'],[199,1,'M'],[202,1,'M'],[205,2,'M'],[220,1,'D'],[233,1,'N'],[246,1,'H'],[255,1,'M'],[275,1,'M']];
const geneMutations = [mutTP53,mutCTNNB1,mutTTN,mutMUC16,mutALB,mutPCLO,mutRYR2,mutAPOB,mutLRP1B,mutCSMD3,mutOBSCN,mutXIRP2,mutFLG,mutABCA13,mutARID1A,mutAXIN1,mutHMCN1,mutCACNA1E,mutCUBN,mutSPTA1];
const sampleTotals = [
222,262,80,78,78,157,117,52,50,60,
91,78,62,62,60,170,1196,60,65,60,
144,100,95,144,100,140,157,196,117,80,
78,90,190,60,52,117,50,30,35,100,
100,95,60,243,105,60,136,85,78,110,
50,40,104,100,100,98,65,65,62,65,
60,62,65,50,47,46,47,55,72,68,
60,65,136,105,470,118,110,70,95,100,
98,65,62,65,68,65,60,86,85,90,
85,118,117,120,65,60,98,80,50,52,
45,60,300,60,143,60,410,100,95,98,
96,70,60,68,157,48,320,83,60,65,
55,60,178,60,26,45,400,30,46,30,
105,100,60,65,926,60,65,62,55,60,
78,70,60,130,70,62,78,60,90,75,
60,40,45,57,55,62,65,966,78,60,
360,130,170,85,60,156,70,75,100,98,
80,70,70,90,85,80,65,60,70,78,
78,98,100,95,105,605,110,105,100,95,
100,105,157,100,98,90,100,85,75,95,
90,95,95,90,130,80,75,117,80,70,
78,72,80,70,143,143,75,70,75,98,
80,40,31,35,60,70,62,130,40,26,
40,95,100,295,100,95,110,143,100,105,
100,105,65,60,70,65,60,65,98,90,
98,90,65,70,80,95,95,196,157,85,
90,85,92,95,75,95,100,85,98,100,
75,65,65,80,95,117,50,40,78,60,
65,157,50,38,40,52,45,55,60,130,
78,70,60,40,35,42,40,38,40,117,
45,150,157,40,58];
const spikeSamples = [16,74,106,116,126,134,157,160,185,233,281];
const spikeFrameDel = [0,0,90,300,360,0,0,325,0,0,100];
const spikeFrameIns = [0,0,0,0,0,820,150,0,0,0,0];
const spikeNonsense = [62,20,12,8,8,14,35,10,36,18,8];
const spikeSplice = [62,36,6,6,6,8,10,8,20,10,4];
const regularNonsense = 9;
const regularSplice = 4;
const barMissense = [60,94,64,42,13,27,25,14,25,23,24,25,24,23,7,2,15,23,21,16];
const barFrameDel = [13,0,5,2,9,2,0,7,0,0,0,2,0,0,5,7,3,1,0,2];
const barNonsense = [11,0,3,5,0,2,1,1,2,2,0,0,0,3,5,9,2,0,1,1];
const barFrameIns = [3,0,0,0,2,2,0,7,0,2,1,0,0,0,5,3,2,0,1,0];
const barSplice = [9,0,0,0,9,0,0,0,2,0,0,0,0,0,1,3,0,0,1,1];
const barInFrameDel = [3,2,0,0,3,0,0,0,0,0,1,0,0,0,1,0,0,0,0,0];
const barMultiHit = [2,0,14,8,8,8,4,2,0,2,3,0,3,1,2,2,3,1,1,3];

/* ---------- Panel D heatmap data ---------- */
const heatColumns = ['TP53 [105]','CTNNB1 [ 96]','TTN [ 89]','MUC16 [ 59]','ALB [ 48]','PCLO [ 42]','RYR2 [ 33]','APOB [ 31]','LRP1B [ 31]','CSMD3 [ 29]','OBSCN [ 29]','XIRP2 [ 29]','FLG [ 28]','ABCA13 [ 27]','ARID1A [ 27]','AXIN1 [ 26]','HMCN1 [ 26]','CACNA1E [ 25]','CUBN [ 25]','ADGRV1 [ 23]','DNAH7 [ 23]','DOCK2 [ 23]','SPTA1 [ 23]','USH2A [ 23]','RYR1 [ 22]'];
const heatRows = ['RYR1 [ 22]','USH2A [ 23]','SPTA1 [ 23]','DOCK2 [ 23]','DNAH7 [ 23]','ADGRV1 [ 23]','CUBN [ 25]','CACNA1E [ 25]','HMCN1 [ 26]','AXIN1 [ 26]','ARID1A [ 27]','ABCA13 [ 27]','FLG [ 28]','XIRP2 [ 29]','OBSCN [ 29]','CSMD3 [ 29]','LRP1B [ 31]','APOB [ 31]','RYR2 [ 33]','PCLO [ 42]','ALB [ 48]','MUC16 [ 59]','TTN [ 89]','CTNNB1 [ 96]','TP53 [105]'];
const heatValues = [
[0.1,-0.2,0.1,0,-0.1,2.8,0.9,0.3,0,0.2,2.2,0.2,0.5,1,0,0,0,0.1,0,1,0.2,0.8,0,0],
[0.1,0.2,0.2,1.4,0,1.1,0.7,0.4,0.3,-0.3,0,0.1,0,0.2,0.2,-0.2,1,1,1.5,0.1,-0.2,0.7,0.1],
[0.1,0.7,0.5,1,0.3,0.4,0.7,1.2,0.3,0.1,0,0.1,0.1,0,0,0.6,1.3,1,0.1,0.1,0.1,0.05],
[0.8,0,1.9,1,0,1.1,1.5,0.7,0.3,0.3,0.6,0.2,0.9,0.1,0,0,2,0.5,0.9,0.6,0.6],
[0.6,1.3,0.2,0.3,0,0.5,-0.1,0.2,-0.1,1.2,0.1,0.2,0.8,0.1,-0.2,0.5,1.5,2.3,-0.2,0.1],
[0,0,0.5,0.1,0,0.5,1,0,0,0.8,0.2,0.1,0.2,0.2,0.5,-0.3,0.1,0.1,0],
[0.3,0.1,0.5,0.2,0.3,0.9,0.2,0.2,0.6,-0.3,2.4,0.7,0.7,0.2,0.3,0.1,0.2,0.4],
[0.3,0.2,0.6,0.3,0.4,1.1,0.2,0.7,2.3,0.7,0,0,0,0.1,0,0,0.1],
[0.4,0.4,0.1,0.5,0,0.6,0.1,0.6,0,-0.1,0,0,0.2,0,0,0],
[-0.5,-2,-0.1,0.6,0,-0.8,0.1,-0.5,0.2,0,-0.1,0,0,-0.1,0.8],
[-0.4,0.1,0.1,0.6,-0.2,-0.3,0.3,0,-0.4,0.2,0.3,0.3,0,0],
[0.6,0.6,0.5,0.5,0.1,0.8,0.1,0.9,-0.1,0.7,0.2,-0.1,0.2],
[0.2,0.4,0,0.2,-0.4,0.2,0.1,0.4,0.1,1.5,2.4,0],
[0.8,-0.1,-0.1,0.5,0.2,0,1.7,0,0.1,-0.1,0.2],
[1.3,2.4,0.4,0,-0.4,1.1,0.6,0,0.1,0.4],
[0.4,0.4,0.5,0.7,-0.4,0.2,0,0.3,0],
[0.6,0.3,1.5,0.7,-0.1,0,0.2,0.5],
[-0.1,1.9,0.5,0.3,0.1,0.2,1.5],
[-0.1,-0.2,0.5,2.2,0.7,0.7],
[0.6,0.2,0.9,0,0.7],
[-0.3,0.5,0.5,0.2],
[0,0.1,0.3],
[0.3,0.1],
[-1]];
const heatMarks = [
'-----*----*--.-----*----',
'---*-*----------..*----',
'---.---*--------*.-----',
'--*.-**---.-.---*-.--',
'-*-------*--.---**--',
'------*--.---------',
'-----*----*-------',
'-----*--*--------',
'----------------',
'-*---.---------',
'--------------',
'-------.-----',
'---------**-',
'------*----',
'**---*----',
'---------',
'--*-----',
'-*----*',
'---*-.',
'--.-.',
'----',
'---',
'--',
'*'];
const heatScaleValues = [-3,-2,-1.5,-1,-0.5,0,0.5,1,1.5,2,3];
const heatScaleColors = ['#7a4b16','#b5842f','#cfae62','#e0cd92','#f1e8cd','#f5f5f5','#cfe8e2','#a3d6ca','#72b2a4','#4e8f84','#2f5f58'];

/* ---------- Panel E data ---------- */
const smallGenes = ['KPNA2','LAMA4','STMN1','SF3B4','C7'];
const smallPercents = ['1%','1%','1%','1%','0%'];
const smallCellRows = [0,0,0,1,1,2,2,3,3,4];
const smallCellCols = [0,1,2,3,4,5,6,7,8,9];
const smallCellTypes = ['M','M','M','M','M','M','N','M','M','M'];

/* ---------- helpers ---------- */
const NS = 'http://www.w3.org/2000/svg';
function svgEl(tag, attrs, parent, text) {
  const e = document.createElementNS(NS, tag);
  for (const k in attrs) e.setAttribute(k, attrs[k]);
  if (text !== undefined) e.textContent = text;
  parent.appendChild(e);
  return e;
}
function stepPath(times, survs, end, xFn, yFn) {
  let d = 'M' + xFn(times[0]).toFixed(2) + ' ' + yFn(survs[0]).toFixed(2);
  for (let i = 1; i < times.length; i++) {
    d += 'H' + xFn(times[i]).toFixed(2) + 'V' + yFn(survs[i]).toFixed(2);
  }
  return d + 'H' + xFn(end).toFixed(2);
}
function survivalAt(times, survs, t) {
  let s = survs[0];
  for (let i = 0; i < times.length; i++) { if (times[i] <= t) s = survs[i]; }
  return s;
}
function lerpHex(a, b, f) {
  const pa = [1,3,5].map(i => parseInt(a.substr(i,2),16));
  const pb = [1,3,5].map(i => parseInt(b.substr(i,2),16));
  return 'rgb(' + pa.map((v,i) => Math.round(v + (pb[i]-v)*f)).join(',') + ')';
}
function heatColor(v) {
  const c = Math.max(-3, Math.min(3, v));
  for (let i = 0; i < heatScaleValues.length - 1; i++) {
    if (c <= heatScaleValues[i+1]) {
      return lerpHex(heatScaleColors[i], heatScaleColors[i+1], (c-heatScaleValues[i])/(heatScaleValues[i+1]-heatScaleValues[i]));
    }
  }
  return heatScaleColors[heatScaleColors.length-1];
}

/* ---------- draw violin ---------- */
(function () {
  const g = document.getElementById('violinPanel');
  const yV = v => 315.7 - v * 6.99;
  const centers = {high: 140.7, low: 273};
  const halfMax = {high: 66.7, low: 62};
  violinTicks.forEach(t => {
    const tk = svgEl('line', {x1: 57.5, x2: 61.7, y1: yV(t), y2: yV(t), stroke: '#333', 'stroke-width': 1}, g);
    
    
    const lb = svgEl('text', {x: 53.5, y: yV(t), 'font-size': 13.5, 'text-anchor': 'end'}, g, t);
    
    
  });
  violinGroups.forEach(k => {
    const tmb = k === 'high' ? violinHighTmb : violinLowTmb;
    const den = k === 'high' ? violinHighDensity : violinLowDensity;
    const out = k === 'high' ? violinHighOutliers : violinLowOutliers;
    const box = k === 'high' ? violinHighBox : violinLowBox;
    const c = centers[k], hm = halfMax[k];
    let d = '';
    tmb.forEach((v,i) => { d += (i ? 'L' : 'M') + (c - den[i]*hm).toFixed(1) + ' ' + yV(v).toFixed(1); });
    for (let i = tmb.length-1; i >= 0; i--) { d += 'L' + (c + den[i]*hm).toFixed(1) + ' ' + yV(tmb[i]).toFixed(1); }
    const shape = svgEl('path', {d: d + 'Z', fill: k === 'high' ? '#4b63a8' : '#b5391a', stroke: '#111', 'stroke-width': 1}, g);
    
    
    const wh = svgEl('line', {x1: c, x2: c, y1: yV(tmb[0]), y2: yV(tmb[tmb.length-1]), stroke: '#000', 'stroke-width': 1.6}, g);
    
    
    out.forEach(v => {
      const p = svgEl('circle', {cx: c, cy: yV(v), r: 3, fill: '#000'}, g);
      
      
    });
    const bx = svgEl('rect', {x: c-13.4, y: yV(box[2]), width: 26.8, height: yV(box[0])-yV(box[2]), fill: '#fff', stroke: '#000', 'stroke-width': 1.4}, g);
    
    
    const md = svgEl('line', {x1: c-13.4, x2: c+13.4, y1: yV(box[1]), y2: yV(box[1]), stroke: '#000', 'stroke-width': 2}, g);
    
    
    const xl = svgEl('text', {x: c, y: 345, 'font-size': 13.9, 'text-anchor': 'middle'}, g, k);
    
    
  });
})();

/* ---------- draw scatter ---------- */
(function () {
  const g = document.getElementById('scatterPanel');
  const xS = v => 62 + v * 8.29;
  const yS = v => 693.3 - v * 40.05;
  const pL = 50.3, pR = 322.3, pT = 441.7, pB = 696;
  const bg = svgEl('rect', {x: pL, y: pT, width: pR-pL, height: pB-pT, fill: '#fff'}, g);
  
  
  scatterXTicks.forEach(t => {
    const gl = svgEl('line', {x1: xS(t), x2: xS(t), y1: pT, y2: pB, stroke: '#ececec', 'stroke-width': 1.2}, g);
    
    
    const mn = svgEl('line', {x1: xS(t+5), x2: xS(t+5), y1: pT, y2: pB, stroke: '#f2f2f2', 'stroke-width': 0.9}, g);
    
    
    const tk = svgEl('line', {x1: xS(t), x2: xS(t), y1: pB, y2: pB+3.5, stroke: '#444', 'stroke-width': 1}, g);
    
    
    const lb = svgEl('text', {x: xS(t), y: 706.7, 'font-size': 11.3, 'text-anchor': 'middle'}, g, t);
    lb.style.fill = '#4d4d4d';
    
    
  });
  scatterYTicks.forEach(t => {
    const gl = svgEl('line', {x1: pL, x2: pR, y1: yS(t), y2: yS(t), stroke: '#ececec', 'stroke-width': 1.2}, g);
    
    
    const mn = svgEl('line', {x1: pL, x2: pR, y1: yS(t+1), y2: yS(t+1), stroke: '#f2f2f2', 'stroke-width': 0.9}, g);
    
    
    const tk = svgEl('line', {x1: pL-3.5, x2: pL, y1: yS(t), y2: yS(t), stroke: '#444', 'stroke-width': 1}, g);
    
    
    const lb = svgEl('text', {x: 44.3, y: yS(t), 'font-size': 11.3, 'text-anchor': 'end'}, g, t);
    lb.style.fill = '#4d4d4d';
    
    
  });
  scatterPoints.forEach(p => {
    const c = svgEl('circle', {cx: xS(p[0]).toFixed(1), cy: yS(p[1]).toFixed(1), r: 3, fill: '#000'}, g);
    
    
  });
  let band = '';
  bandX.forEach((v,i) => { band += (i ? 'L' : 'M') + xS(v).toFixed(1) + ' ' + yS(bandHigh[i]).toFixed(1); });
  for (let i = bandX.length-1; i >= 0; i--) { band += 'L' + xS(bandX[i]).toFixed(1) + ' ' + yS(bandLow[i]).toFixed(1); }
  const bd = svgEl('path', {d: band + 'Z', fill: '#999', 'fill-opacity': 0.42}, g);
  
  
  const tr = svgEl('line', {x1: xS(trendX[0]), y1: yS(trendY[0]), x2: xS(trendX[1]), y2: yS(trendY[1]), stroke: '#3f66ee', 'stroke-width': 2.1}, g);
  
  
  const bord = svgEl('rect', {x: pL, y: pT, width: pR-pL, height: pB-pT, fill: 'none', stroke: '#777', 'stroke-width': 1.3}, g);
  
  
  const note = svgEl('text', {x: 63.3, y: 463.3, 'font-size': 13}, g);
  
  
  const t1 = svgEl('tspan', {'font-style': 'italic'}, note, 'R');
  
  
  const t2 = svgEl('tspan', {}, note, ' = 0.11, ');
  
  
  const t3 = svgEl('tspan', {'font-style': 'italic'}, note, 'p');
  
  
  const t4 = svgEl('tspan', {}, note, ' = 0.033');
  
  
  // marginal densities
  let td = 'M' + xS(topDensityX[0]) + ' 439';
  topDensityX.forEach((v,i) => { td += 'L' + xS(v).toFixed(1) + ' ' + (439 - topDensityY[i]*46).toFixed(1); });
  td += 'L' + xS(30) + ' 439Z';
  const top = svgEl('path', {d: td, fill: '#4f6fe0', stroke: '#111', 'stroke-width': 1}, g);
  
  
  const dL = 325;
  let rd = 'M' + dL + ' ' + yS(rightDensityY[0]).toFixed(1);
  rightDensityY.forEach((v,i) => { rd += 'L' + (dL + rightDensityX[i]*50).toFixed(1) + ' ' + yS(v).toFixed(1); });
  rd += 'L' + dL + ' ' + yS(rightDensityY[rightDensityY.length-1]).toFixed(1) + 'Z';
  const right = svgEl('path', {d: rd, fill: '#cd4a17', stroke: 'none'}, g);
  
  
  let re = '';
  rightDensityY.forEach((v,i) => { re += (i ? 'L' : 'M') + (dL + rightDensityX[i]*50).toFixed(1) + ' ' + yS(v).toFixed(1); });
  const rightEdge = svgEl('path', {d: re, fill: 'none', stroke: '#111', 'stroke-width': 1}, g);
  
  
})();

/* ---------- draw survival plots ---------- */
function drawSurvivalAxes(g, cfg) {
  const ax = svgEl('path', {d: 'M' + cfg.left + ' ' + cfg.top + 'V' + cfg.bottom + 'H' + cfg.right, fill: 'none', stroke: '#222', 'stroke-width': 1.5}, g);
  
  
  kmSurvTicks.forEach(t => {
    const tk = svgEl('line', {x1: cfg.left-4, x2: cfg.left, y1: cfg.y(t), y2: cfg.y(t), stroke: '#222', 'stroke-width': 1.2}, g);
    
    
    const lb = svgEl('text', {x: cfg.left-7.5, y: cfg.y(t), 'font-size': cfg.tickFont, 'text-anchor': 'end'}, g, t.toFixed(2));
    
    
  });
  kmTimeTicks.forEach(t => {
    const tk = svgEl('line', {x1: cfg.x(t), x2: cfg.x(t), y1: cfg.bottom, y2: cfg.bottom+4, stroke: '#222', 'stroke-width': 1.2}, g);
    
    
    const lb = svgEl('text', {x: cfg.x(t), y: cfg.bottom+14, 'font-size': cfg.tickFont, 'text-anchor': 'middle'}, g, t);
    
    
    const tk2 = svgEl('line', {x1: cfg.x(t), x2: cfg.x(t), y1: cfg.tableBottom, y2: cfg.tableBottom+4, stroke: '#222', 'stroke-width': 1.2}, g);
    
    
    const lb2 = svgEl('text', {x: cfg.x(t), y: cfg.tableBottom+13, 'font-size': cfg.tickFont, 'text-anchor': 'middle'}, g, t);
    
    
  });
  const tb = svgEl('path', {d: 'M' + cfg.left + ' ' + cfg.tableTop + 'V' + cfg.tableBottom + 'H' + cfg.right, fill: 'none', stroke: '#222', 'stroke-width': 1.5}, g);
  
  
}
function drawCurve(g, times, survs, end, censors, cfg, color, width) {
  const c = svgEl('path', {d: stepPath(times, survs, end, cfg.x, cfg.y), fill: 'none', stroke: color, 'stroke-width': width, 'stroke-linejoin': 'miter'}, g);
  
  
  censors.forEach(t => {
    const s = survivalAt(times, survs, t);
    const px = cfg.x(t), py = cfg.y(s);
    const m = svgEl('path', {d: 'M' + (px-4.5).toFixed(1) + ' ' + py.toFixed(1) + 'h9M' + px.toFixed(1) + ' ' + (py-4.5).toFixed(1) + 'v9', stroke: color, 'stroke-width': 1.25, fill: 'none'}, g);
    
    
  });
}
function drawRiskRows(g, cfg, groups, rows, ys, colors) {
  groups.forEach((name, r) => {
    const tk = svgEl('line', {x1: cfg.left-4, x2: cfg.left, y1: ys[r], y2: ys[r], stroke: '#222', 'stroke-width': 1.1}, g);
    
    
    const lb = svgEl('text', {x: cfg.left-8, y: ys[r], 'font-size': cfg.groupFont, 'text-anchor': 'end'}, g, name);
    lb.style.fill = colors[r];
    
    
    rows[r].forEach((v, i) => {
      const n = svgEl('text', {x: cfg.x(kmTimeTicks[i]), y: ys[r]+1, 'font-size': cfg.numFont, 'text-anchor': 'middle'}, g, v);
      
      
    });
  });
}
(function () {
  const g1 = document.getElementById('km1Panel');
  const cfg1 = {left: 580.8, right: 1091.5, top: 126.5, bottom: 499, tableTop: 589, tableBottom: 663, tickFont: 16.3, groupFont: 16.1, numFont: 16.9,
    x: t => 604 + t * 3.872, y: s => 482.9 - s * 338.8};
  drawSurvivalAxes(g1, cfg1);
  drawCurve(g1, km1HighTime, km1HighSurv, km1HighEnd, km1HighCensor, cfg1, '#bc3c1b', 3);
  drawCurve(g1, km1LowTime, km1LowSurv, km1LowEnd, km1LowCensor, cfg1, '#4668b4', 3);
  drawRiskRows(g1, cfg1, km1RiskGroups, [km1RiskHigh, km1RiskLow], [608, 642], ['#bc3c1b', '#4668b4']);
  const g2 = document.getElementById('km2Panel');
  const cfg2 = {left: 1322, right: 1769, top: 114.7, bottom: 505.5, tableTop: 590.7, tableBottom: 673, tickFont: 15.2, groupFont: 15.5, numFont: 15.8,
    x: t => 1342.2 + t * 3.393, y: s => 488.8 - s * 356.9};
  drawSurvivalAxes(g2, cfg2);
  drawCurve(g2, km2HHTime, km2HHSurv, km2HHEnd, km2HHCensor, cfg2, '#da2026', 2.5);
  drawCurve(g2, km2HLTime, km2HLSurv, km2HLEnd, km2HLCensor, cfg2, '#4d80bf', 2.5);
  drawCurve(g2, km2LHTime, km2LHSurv, km2LHEnd, km2LHCensor, cfg2, '#6db14b', 2.5);
  drawCurve(g2, km2LLTime, km2LLSurv, km2LLEnd, km2LLCensor, cfg2, '#9351a5', 2.5);
  drawRiskRows(g2, cfg2, km2RiskGroups, [km2RiskHH, km2RiskHL, km2RiskLH, km2RiskLL], [602.5, 622, 641.8, 661.3], ['#da2026', '#4d80bf', '#6db14b', '#9351a5']);
})();

/* ---------- draw oncoplot ---------- */
(function () {
  const g = document.getElementById('oncoPanel');
  const colW = 2.443, x0 = 110.6;
  const sx = i => x0 + i * colW;
  const topY = c => 1026.7 - c * 0.1277;
  const rowY = r => 1037.3 + r * 29.65;
  const cx = c => 903.7 + c * 2.0;
  const axis = svgEl('path', {d: 'M94 ' + topY(1196) + 'H103V' + topY(0) + 'H94', fill: 'none', stroke: '#222', 'stroke-width': 1.3}, g);
  
  
  [1196, 0].forEach(v => {
    const l = svgEl('text', {x: 87, y: topY(v), 'font-size': 13.3, 'text-anchor': 'end'}, g, v);
    
    
  });
  sampleTotals.forEach((tot, i) => {
    const sp = spikeSamples.indexOf(i);
    const del = sp >= 0 ? spikeFrameDel[sp] : 0;
    const ins = sp >= 0 ? spikeFrameIns[sp] : 0;
    const non = sp >= 0 ? spikeNonsense[sp] : regularNonsense;
    const spl = sp >= 0 ? spikeSplice[sp] : regularSplice;
    const mis = tot - del - ins - non - spl;
    const parts = [[ins,'I'],[del,'D'],[mis,'M'],[non,'N'],[spl,'S']];
    let acc = 0;
    parts.forEach(p => {
      if (p[0] <= 0) return;
      const r = svgEl('rect', {x: sx(i).toFixed(2), y: topY(acc + p[0]).toFixed(2), width: colW + 0.05, height: (p[0] * 0.1277).toFixed(2), fill: mutationColor[p[1]]}, g);
      
      
      acc += p[0];
    });
  });
  geneNames.forEach((gene, r) => {
    const y = rowY(r);
    const bg = svgEl('rect', {x: x0, y: y, width: 745, height: 28.8, fill: '#cbcbcb'}, g);
    
    
    geneMutations[r].forEach(m => {
      const c = svgEl('rect', {x: sx(m[0]).toFixed(2), y: y, width: (m[1] * colW).toFixed(2), height: 28.8, fill: mutationColor[m[2]]}, g);
      
      
    });
    const ov = svgEl('rect', {x: x0, y: y, width: 745, height: 28.8, fill: 'url(#colLines)'}, g);
    
    
    const lb = svgEl('text', {x: 104.5, y: y + 14.4, 'font-size': 16.6, 'font-style': 'italic', 'text-anchor': 'end'}, g, gene);
    
    
    const pc = svgEl('text', {x: 857.5, y: y + 15, 'font-size': 16.3}, g, genePercents[r] + '%');
    
    
    const stacks = [[barMissense[r],'M'],[barFrameDel[r],'D'],[barNonsense[r],'N'],[barFrameIns[r],'I'],[barSplice[r],'S'],[barInFrameDel[r],'Y'],[barMultiHit[r],'H']];
    let acc = 0;
    stacks.forEach(s => {
      if (s[0] <= 0) return;
      const b = svgEl('rect', {x: cx(acc).toFixed(2), y: y + 3, width: (s[0] * 2.0).toFixed(2), height: 26.4, fill: mutationColor[s[1]]}, g);
      
      
      acc += s[0];
    });
  });
  const barAxis = svgEl('path', {d: 'M' + cx(0) + ' 1025.7V1033H' + cx(101) + 'V1025.7', fill: 'none', stroke: '#222', 'stroke-width': 1.3}, g);
  
  
  [0, 101].forEach(v => {
    const l = svgEl('text', {x: cx(v), y: 1010.7, 'font-size': 13.3, 'text-anchor': 'middle'}, g, v);
    
    
  });
})();

/* ---------- draw heatmap ---------- */
(function () {
  const g = document.getElementById('heatPanel');
  const cw = 17.52, ch = 18.47, x0 = 1274, y0 = 963.3;
  heatColumns.forEach((name, c) => {
    const x = x0 + c * cw + cw / 2 + 1;
    const t = svgEl('text', {x: x, y: 953, 'font-size': 11, 'font-style': 'italic', transform: 'rotate(-87.5 ' + x + ' 953)'}, g, name);
    t.style.fill = '#333';
    
    
  });
  heatRows.forEach((name, r) => {
    const t = svgEl('text', {x: 1265.7, y: y0 + r * ch + ch / 2, 'font-size': 11, 'font-style': 'italic', 'text-anchor': 'end'}, g, name);
    t.style.fill = '#333';
    
    
  });
  heatValues.forEach((row, r) => {
    row.forEach((v, c) => {
      const x = x0 + c * cw, y = y0 + r * ch;
      const cell = svgEl('rect', {x: x.toFixed(2), y: y.toFixed(2), width: cw - 0.6, height: ch - 0.6, fill: heatColor(v)}, g);
      
      
      const mk = (heatMarks[r] || '')[c];
      if (mk === '*') {
        const s = svgEl('text', {x: x + cw / 2 - 0.3, y: y + ch / 2 + 9.5, 'font-size': 24, 'text-anchor': 'middle'}, g, '*');
        s.style.dominantBaseline = 'auto';
        
        
      } else if (mk === '.') {
        const d = svgEl('circle', {cx: x + cw / 2 - 0.3, cy: y + ch / 2 - 0.3, r: 0.95, fill: '#000'}, g);
        
        
      }
    });
  });
  const grad = document.getElementById('heatGradient');
  for (let i = heatScaleValues.length - 1; i >= 0; i--) {
    const st = svgEl('stop', {offset: ((3 - heatScaleValues[i]) / 6).toFixed(3), 'stop-color': heatScaleColors[i]}, grad);
    
    
  }
  [3, 2, 1, 0, -1, -2, -3].forEach(v => {
    const y = 1364 - v * 23.67;
    const tk = svgEl('line', {x1: 1556, x2: 1558.6, y1: y, y2: y, stroke: '#666', 'stroke-width': 0.8}, g);
    
    
  });
})();

/* ---------- draw panel E ---------- */
(function () {
  const g = document.getElementById('ePanel');
  const x0 = 1275.9, y0 = 1509.3, cw = 38.07, ch = 54.34;
  smallGenes.forEach((name, r) => {
    const bg = svgEl('rect', {x: x0, y: y0 + r * ch, width: cw * 10, height: ch - 1, fill: '#cccccc'}, g);
    
    
    const lb = svgEl('text', {x: 1270, y: y0 + r * ch + ch / 2, 'font-size': 11.5, 'font-style': 'italic', 'text-anchor': 'end'}, g, name);
    lb.style.fill = '#222';
    
    
    const pc = svgEl('text', {x: 1660, y: y0 + r * ch + ch / 2, 'font-size': 11}, g, smallPercents[r]);
    pc.style.fill = '#222';
    
    
  });
  smallCellRows.forEach((r, i) => {
    const c = svgEl('rect', {x: x0 + smallCellCols[i] * cw, y: y0 + r * ch, width: cw, height: ch - 0.5, fill: mutationColor[smallCellTypes[i]]}, g);
    
    
  });
  for (let c = 1; c < 10; c++) {
    const l = svgEl('line', {x1: x0 + c * cw, x2: x0 + c * cw, y1: y0, y2: y0 + 5 * ch, stroke: '#fff', 'stroke-opacity': 0.3, 'stroke-width': 0.9}, g);
    
    
  }
})();

/* small vertical nudge for text outside panel A, matching the reference baselines */
['km1Panel','km2Panel','oncoPanel','heatPanel','ePanel'].forEach(id => {
  document.getElementById(id).querySelectorAll('text').forEach(t => {
    if (t.textContent !== '*') t.setAttribute('dy', '0.9');
  });
});
</script>
</body>
</html>
